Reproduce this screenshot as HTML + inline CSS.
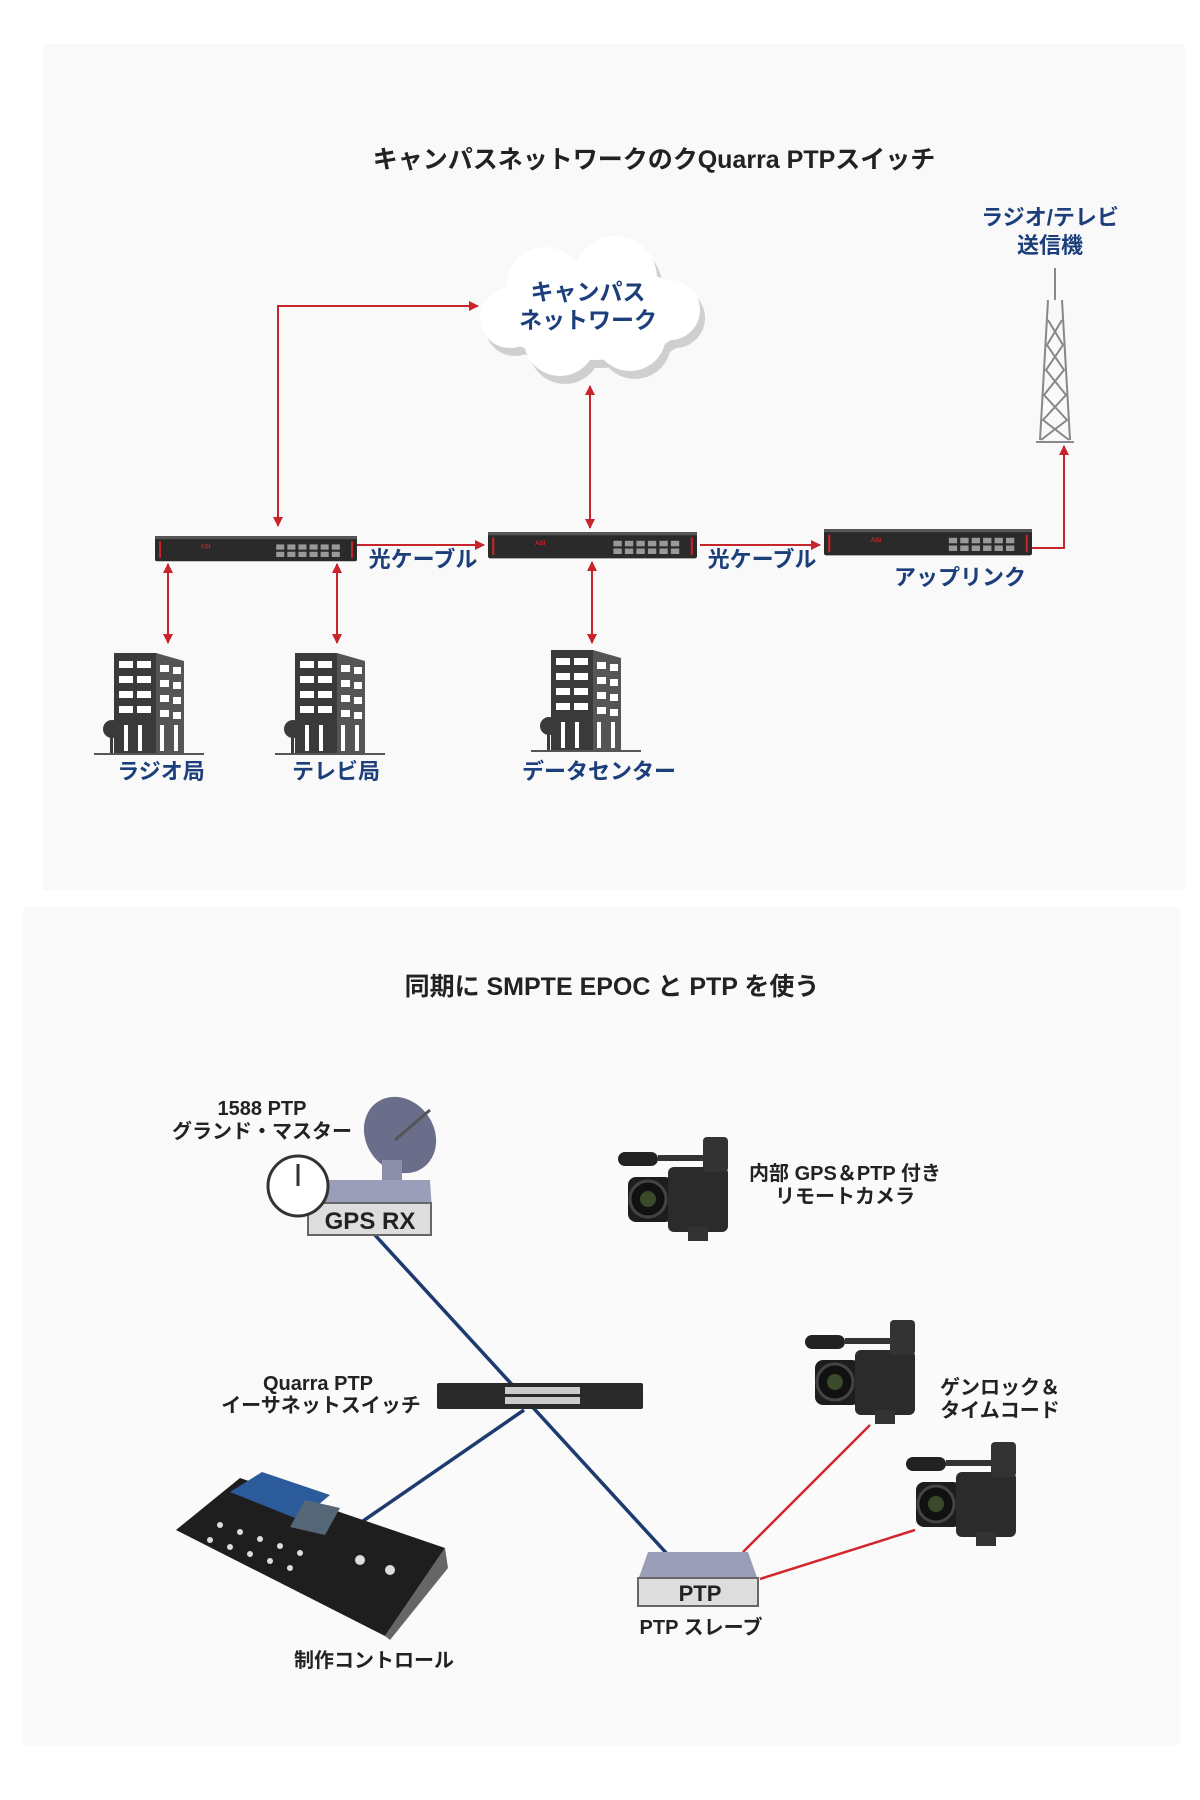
<!DOCTYPE html>
<html><head><meta charset="utf-8"><style>
html,body{margin:0;padding:0;background:#fff;width:1200px;height:1800px;overflow:hidden}
svg{display:block}
text{font-family:"Liberation Sans","Noto Sans CJK JP",sans-serif;font-weight:bold}
.b{fill:#1c3f7c}
.k{fill:#222}
</style></head><body>
<svg width="1200" height="1800" viewBox="0 0 1200 1800" xmlns="http://www.w3.org/2000/svg">
<defs>
<marker id="ar" viewBox="0 0 10 10" refX="9" refY="5" markerWidth="5" markerHeight="5" orient="auto-start-reverse"><path d="M0,0L10,5L0,10z" fill="#c8242b"/></marker>
<g id="bld">
<rect x="20" y="10" width="42" height="100" fill="#3a3a3a"/>
<polygon points="62,10 90,18 90,110 62,110" fill="#555"/>
<g fill="#fff">
<rect x="25" y="18" width="14" height="7"/><rect x="43" y="18" width="14" height="7"/>
<rect x="25" y="33" width="14" height="7"/><rect x="43" y="33" width="14" height="7"/>
<rect x="25" y="48" width="14" height="7"/><rect x="43" y="48" width="14" height="7"/>
<rect x="25" y="63" width="14" height="7"/><rect x="43" y="63" width="14" height="7"/>
<rect x="66" y="22" width="9" height="7"/><rect x="79" y="24" width="8" height="7"/>
<rect x="66" y="37" width="9" height="7"/><rect x="79" y="39" width="8" height="7"/>
<rect x="66" y="52" width="9" height="7"/><rect x="79" y="54" width="8" height="7"/>
<rect x="66" y="67" width="9" height="7"/><rect x="79" y="69" width="8" height="7"/>
<rect x="30" y="82" width="4" height="26"/><rect x="44" y="82" width="4" height="26"/><rect x="66" y="82" width="4" height="26"/><rect x="80" y="82" width="4" height="26"/>
</g>
<circle cx="18" cy="86" r="9" fill="#3a3a3a"/><rect x="16" y="92" width="3" height="18" fill="#3a3a3a"/>
<rect x="0" y="110" width="110" height="2" fill="#555"/>
</g>
<g id="sw">
<rect x="0" y="0" width="200" height="24" fill="#2a2a2a" rx="2"/>
<rect x="0" y="0" width="200" height="3" fill="#555"/>
<rect x="4" y="5" width="2" height="16" fill="#c8242b"/>
<rect x="194" y="5" width="2" height="16" fill="#c8242b"/>
<g fill="#999"><rect x="120" y="8" width="8" height="5"/><rect x="131" y="8" width="8" height="5"/><rect x="142" y="8" width="8" height="5"/><rect x="153" y="8" width="8" height="5"/><rect x="164" y="8" width="8" height="5"/><rect x="175" y="8" width="8" height="5"/>
<rect x="120" y="15" width="8" height="5"/><rect x="131" y="15" width="8" height="5"/><rect x="142" y="15" width="8" height="5"/><rect x="153" y="15" width="8" height="5"/><rect x="164" y="15" width="8" height="5"/><rect x="175" y="15" width="8" height="5"/></g>
<text x="45" y="12" font-size="6" fill="#c8242b">ASI</text>
</g>
<g id="cam">
<rect x="10" y="40" width="45" height="45" rx="8" fill="#1d1d1d"/>
<circle cx="30" cy="62" r="18" fill="#111" stroke="#444" stroke-width="3"/>
<circle cx="30" cy="62" r="8" fill="#3a4a2a"/>
<rect x="50" y="30" width="60" height="65" rx="6" fill="#2b2b2b"/>
<rect x="0" y="15" width="40" height="14" rx="7" fill="#222"/>
<rect x="40" y="18" width="45" height="6" fill="#333"/>
<rect x="85" y="0" width="25" height="35" rx="4" fill="#333"/>
<rect x="70" y="90" width="20" height="14" fill="#333"/>
</g>
</defs>
<rect width="1200" height="1800" fill="#fff"/>
<rect x="43" y="44" width="1142" height="846" fill="#f9f9f9"/>
<rect x="23" y="907" width="1157" height="838" fill="#fafafa"/>

<text x="654" y="168" font-size="25" text-anchor="middle" class="k">キャンパスネットワークのクQuarra PTPスイッチ</text>

<g fill="#cfcfcf" transform="translate(5,8)">
<ellipse cx="590" cy="312" rx="100" ry="48"/><circle cx="545" cy="285" r="38"/><circle cx="615" cy="278" r="42"/><circle cx="560" cy="340" r="36"/><circle cx="630" cy="335" r="36"/><circle cx="510" cy="318" r="30"/><circle cx="670" cy="310" r="30"/>
</g>
<g fill="#fff">
<ellipse cx="590" cy="312" rx="100" ry="48"/><circle cx="545" cy="285" r="38"/><circle cx="615" cy="278" r="42"/><circle cx="560" cy="340" r="36"/><circle cx="630" cy="335" r="36"/><circle cx="510" cy="318" r="30"/><circle cx="670" cy="310" r="30"/>
</g>
<text x="588" y="300" font-size="23" text-anchor="middle" class="b">キャンパス</text>
<text x="588" y="328" font-size="23" text-anchor="middle" class="b">ネットワーク</text>

<text x="1050" y="225" font-size="22" text-anchor="middle" class="b">ラジオ/テレビ</text>
<text x="1050" y="253" font-size="22" text-anchor="middle" class="b">送信機</text>
<g stroke="#888" stroke-width="2" fill="none">
<line x1="1055" y1="268" x2="1055" y2="300"/>
<polyline points="1048,300 1040,440"/><polyline points="1062,300 1070,440"/>
<path d="M1048,320 L1063,345 L1046,370 L1066,395 L1043,420 L1069,440 M1062,320 L1047,345 L1064,370 L1044,395 L1067,420 L1041,440"/>
<line x1="1036" y1="442" x2="1074" y2="442"/>
</g>

<use href="#sw" transform="translate(155,536) scale(1.01,1.05)"/>
<use href="#sw" transform="translate(488,532) scale(1.045,1.1)"/>
<use href="#sw" transform="translate(824,529) scale(1.04,1.1)"/>

<g stroke="#c8242b" stroke-width="2" fill="none">
<polyline points="278,526 278,306 478,306" marker-start="url(#ar)" marker-end="url(#ar)"/>
<line x1="590" y1="386" x2="590" y2="528" marker-start="url(#ar)" marker-end="url(#ar)"/>
<line x1="357" y1="545" x2="484" y2="545" marker-end="url(#ar)"/>
<line x1="700" y1="545" x2="820" y2="545" marker-end="url(#ar)"/>
<polyline points="1032,548 1064,548 1064,446" marker-end="url(#ar)"/>
<line x1="168" y1="564" x2="168" y2="643" marker-start="url(#ar)" marker-end="url(#ar)"/>
<line x1="337" y1="564" x2="337" y2="643" marker-start="url(#ar)" marker-end="url(#ar)"/>
<line x1="592" y1="562" x2="592" y2="643" marker-start="url(#ar)" marker-end="url(#ar)"/>
</g>
<text x="423" y="567" font-size="22" text-anchor="middle" class="b">光ケーブル</text>
<text x="762" y="567" font-size="22" text-anchor="middle" class="b">光ケーブル</text>
<text x="960" y="585" font-size="22" text-anchor="middle" class="b">アップリンク</text>

<use href="#bld" transform="translate(94,643)"/>
<use href="#bld" transform="translate(275,643)"/>
<use href="#bld" transform="translate(531,640)"/>
<text x="161" y="779" font-size="22" text-anchor="middle" class="b">ラジオ局</text>
<text x="336" y="779" font-size="22" text-anchor="middle" class="b">テレビ局</text>
<text x="599" y="779" font-size="22" text-anchor="middle" class="b">データセンター</text>

<text x="612" y="995" font-size="25" text-anchor="middle" class="k">同期に SMPTE EPOC と PTP を使う</text>

<g stroke="#1d3b6e" stroke-width="3.5">
<line x1="374" y1="1234" x2="669" y2="1556"/>
<line x1="524" y1="1410" x2="363" y2="1521"/>
</g>
<g stroke="#d2262c" stroke-width="2.5">
<line x1="743" y1="1552" x2="870" y2="1425"/>
<line x1="760" y1="1579" x2="915" y2="1530"/>
</g>

<text x="262" y="1115" font-size="20" text-anchor="middle" class="k">1588 PTP</text>
<text x="262" y="1138" font-size="20" text-anchor="middle" class="k">グランド・マスター</text>
<ellipse cx="400" cy="1135" rx="34" ry="40" transform="rotate(-35 400 1135)" fill="#6a6e8a"/>
<line x1="395" y1="1140" x2="430" y2="1110" stroke="#555" stroke-width="3"/>
<rect x="382" y="1160" width="20" height="22" fill="#8a8ea8"/>
<polygon points="310,1210 328,1180 430,1180 432,1210" fill="#9a9eb8"/>
<rect x="308" y="1203" width="123" height="32" fill="#ddd" stroke="#666" stroke-width="2"/>
<text x="370" y="1229" font-size="24" text-anchor="middle" class="k">GPS RX</text>
<circle cx="298" cy="1186" r="30" fill="#fff" stroke="#333" stroke-width="3"/>
<line x1="298" y1="1186" x2="298" y2="1164" stroke="#333" stroke-width="3"/>

<use href="#cam" transform="translate(618,1137)"/>
<text x="845" y="1180" font-size="20" text-anchor="middle" class="k">内部 GPS＆PTP 付き</text>
<text x="845" y="1203" font-size="20" text-anchor="middle" class="k">リモートカメラ</text>

<rect x="437" y="1383" width="206" height="26" fill="#2a2a2a" rx="2"/>
<g fill="#ccc"><rect x="505" y="1387" width="75" height="7"/><rect x="505" y="1397" width="75" height="7"/></g>
<text x="318" y="1390" font-size="20" text-anchor="middle" class="k">Quarra PTP</text>
<text x="321" y="1412" font-size="20" text-anchor="middle" class="k">イーサネットスイッチ</text>

<polygon points="176,1530 240,1478 445,1548 385,1636" fill="#1e1e1e"/>
<polygon points="385,1636 445,1548 448,1568 390,1640" fill="#666"/>
<polygon points="230,1492 262,1472 330,1495 300,1520" fill="#2b5b9a"/>
<polygon points="305,1500 340,1508 325,1535 290,1527" fill="#567"/>
<g fill="#ddd"><circle cx="220" cy="1525" r="3"/><circle cx="240" cy="1532" r="3"/><circle cx="260" cy="1539" r="3"/><circle cx="280" cy="1546" r="3"/><circle cx="300" cy="1553" r="3"/><circle cx="210" cy="1540" r="3"/><circle cx="230" cy="1547" r="3"/><circle cx="250" cy="1554" r="3"/><circle cx="270" cy="1561" r="3"/><circle cx="290" cy="1568" r="3"/><circle cx="360" cy="1560" r="5"/><circle cx="390" cy="1570" r="5"/></g>
<text x="374" y="1667" font-size="20" text-anchor="middle" class="k">制作コントロール</text>

<polygon points="648,1552 748,1552 758,1580 638,1580" fill="#9a9eb8"/>
<rect x="638" y="1578" width="120" height="28" fill="#ddd" stroke="#666" stroke-width="2"/>
<text x="700" y="1601" font-size="22" text-anchor="middle" class="k">PTP</text>
<text x="701" y="1634" font-size="20" text-anchor="middle" class="k">PTP スレーブ</text>

<use href="#cam" transform="translate(805,1320)"/>
<use href="#cam" transform="translate(906,1442)"/>
<text x="1000" y="1394" font-size="20" text-anchor="middle" class="k">ゲンロック＆</text>
<text x="1000" y="1417" font-size="20" text-anchor="middle" class="k">タイムコード</text>
</svg>
</body></html>
